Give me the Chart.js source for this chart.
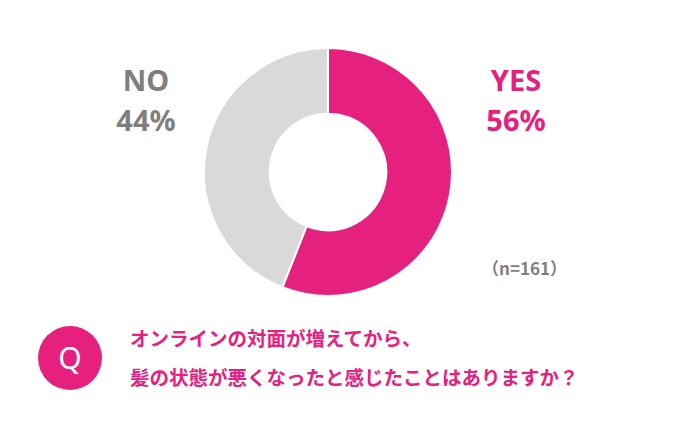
<!DOCTYPE html>
<html><head><meta charset="utf-8">
<script src="https://cdn.jsdelivr.net/npm/chart.js@4"></script>
<style>
body{margin:0;width:676px;height:438px;background:#fff;position:relative;overflow:hidden;font-family:"Noto Sans CJK JP","Noto Sans",sans-serif}
#wrap{position:absolute;left:203px;top:47px;width:250px;height:250px}
.t{position:absolute;font-weight:bold;white-space:nowrap}
</style></head><body>
<div id="wrap"><canvas id="c"></canvas></div>
<div class="t" style="left:108px;top:60px;width:76px;text-align:center;color:#7f7f7f;font-size:29px;line-height:40px;font-family:'Noto Sans',sans-serif">NO<br>44%</div>
<div class="t" style="left:478px;top:60px;width:76px;text-align:center;color:#e5207f;font-size:29px;line-height:40px;font-family:'Noto Sans',sans-serif">YES<br>56%</div>
<div class="t" style="left:482px;top:255px;color:#7f7f7f;font-size:17px">（n=161）</div>
<div style="position:absolute;left:38px;top:326px;width:64px;height:64px;border-radius:50%;background:#e5207f;color:#fff;font-size:30px;line-height:64px;text-align:center;font-family:'Noto Sans',sans-serif">Q</div>
<div class="t" style="left:130px;top:318px;color:#e5207f;font-size:19.5px;line-height:39px">オンラインの対面が増えてから、<br>髪の状態が悪くなったと感じたことはありますか？</div>
<script>
const categories=["YES","NO"];
const values=[56,44];
const colors=["#e5207f","#d9d9d9"];
new Chart(document.getElementById('c'),{type:'doughnut',
data:{labels:categories,datasets:[{data:values,backgroundColor:colors,borderColor:'#fff',borderWidth:2}]},
options:{responsive:true,maintainAspectRatio:false,animation:false,cutout:'47%',layout:{padding:0},
plugins:{legend:{display:false},tooltip:{enabled:false}}}});
</script></body></html>
